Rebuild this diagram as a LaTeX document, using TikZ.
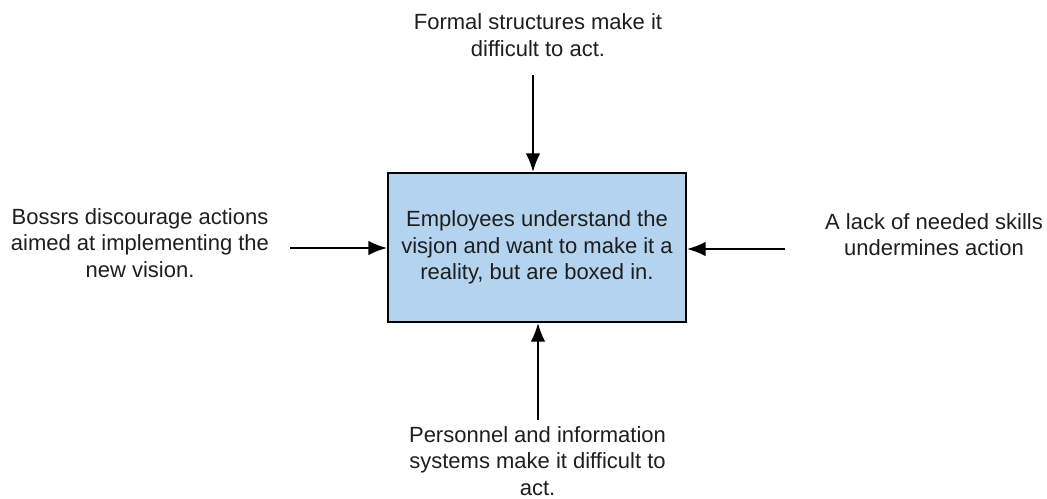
\documentclass[tikz,border=0pt]{standalone}
\usepackage{fontspec}
\setmainfont{Liberation Sans}
\usepackage{tikz}
\usetikzlibrary{arrows.meta}
\definecolor{boxblue}{RGB}{179,211,238}
\definecolor{inkgray}{RGB}{30,30,30}

\begin{document}
\begin{tikzpicture}[x=0.75pt,y=0.75pt,>={Latex[length=14pt,width=11pt]},->,
    lbl/.style={align=center,inner sep=0pt,text=inkgray,
        font=\fontsize{16.5}{20}\selectfont}]
    \useasboundingbox (0,0) rectangle (1047,499);
    \node[lbl,draw=black,fill=boxblue,line width=1.5pt,
        minimum width=223.5pt,minimum height=111.75pt](box) at (537,251.5)
        {Employees understand the\\visjon and want to make it a\\reality, but are boxed in.};
    \node[lbl](top) at (538,464) {Formal structures make it\\difficult to act.};
    \node[lbl](left) at (140,256) {Bossrs discourage actions\\aimed at implementing the\\new vision.};
    \node[lbl](right) at (934,264.5) {A lack of needed skills\\undermines action};
    \node[lbl](bottom) at (537.5,38) {Personnel and information\\systems make it difficult to\\act.};

    \coordinate(top-t) at (533,424);
    \coordinate(bottom-t) at (538,79);
    \coordinate(left-t) at (290,251);
    \coordinate(right-t) at (785,250);

    \foreach \k/\l in {top-t/north, bottom-t/south}{\draw[line width=1.5pt](\k)--(\k |- box.\l);}
    \foreach \k/\l in {left-t/west, right-t/east}{\draw[line width=1.5pt](\k)--(\k -| box.\l);}
\end{tikzpicture}
\end{document}
